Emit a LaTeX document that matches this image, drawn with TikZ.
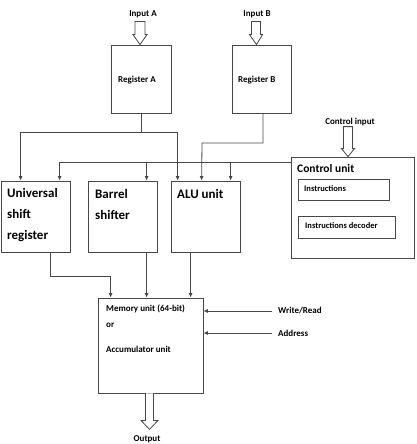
\documentclass[tikz,border=0pt]{standalone}
\usepackage{fontspec}
\setmainfont{Carlito}
\usetikzlibrary{arrows.meta,calc}
\begin{document}
\begin{tikzpicture}[x=1pt,y=-1pt,
  ln/.style={draw=black!72,line width=0.8pt},
  arr/.style={ln,-{Latex[length=4.5pt,width=4pt]}},
  box/.style={ln,rectangle,inner sep=0pt},
  hol/.style={draw=black!72,line width=0.8pt,fill=white,line join=miter},
  sm/.style={font=\bfseries\fontsize{9}{11}\selectfont,inner sep=0pt},
  xs/.style={font=\bfseries\fontsize{8.5}{10}\selectfont,inner sep=0pt},
  big/.style={font=\bfseries\fontsize{13}{21}\selectfont,inner sep=0pt,align=left},
  mid/.style={font=\bfseries\fontsize{11.5}{14}\selectfont,inner sep=0pt}]
\useasboundingbox (0,0) rectangle (416,444);
% boxes
\node[box,minimum width=60,minimum height=68] (regA) at (141,79) {};
\node[box,minimum width=59,minimum height=68] (regB) at (262,79) {};
\node[box,minimum width=69,minimum height=71] (usr) at (35.5,216.5) {};
\node[box,minimum width=69,minimum height=71] (bar) at (122.5,216.5) {};
\node[box,minimum width=69,minimum height=71] (alu) at (205.5,216.5) {};
\node[box,minimum width=123,minimum height=101] (cu) at (352.5,207.5) {};
\node[box,minimum width=91,minimum height=21] (ins) at (343.5,189.5) {};
\node[box,minimum width=97,minimum height=22] (dec) at (346.5,227) {};
\node[box,minimum width=105,minimum height=95] (mem) at (150.5,345.5) {};
% labels
\node[sm,anchor=west] (lA) at (118,80) {Register A};
\node[sm,anchor=west] (lB) at (238,80) {Register B};
\node[big,anchor=west] (lusr) at (7,215) {Universal\\shift\\register};
\node[big,anchor=west] (lbar) at (95,204.5) {Barrel\\shifter};
\node[big,anchor=west] (lalu) at (177,194) {ALU unit};
\node[mid,anchor=west] (lcu) at (297,169) {Control unit};
\node[xs,anchor=west] (lins) at (304,188.5) {Instructions};
\node[xs,anchor=west] (ldec) at (305,226) {Instructions decoder};
\node[sm,anchor=west] (lm1) at (106,309) {Memory unit (64-bit)};
\node[sm,anchor=west] (lm2) at (106,325) {or};
\node[sm,anchor=west] (lm3) at (106,349) {Accumulator unit};
\node[sm] (inA) at (143,14) {Input A};
\node[sm] (inB) at (257,14) {Input B};
\node[sm] (cin) at (350,122) {Control input};
\node[sm] (out) at (147,439) {Output};
\node[sm,anchor=west,inner xsep=6pt] (wr) at (272,311) {Write/Read};
\node[sm,anchor=west,inner xsep=6pt] (ad) at (272,333) {Address};
% hollow arrows
\draw[hol] ([xshift=-1pt]regA.north) -- ++(-7,-10) -- ++(2,0) -- ++(0,-13) -- ++(10,0) -- ++(0,13) -- ++(2,0) -- cycle;
\draw[hol] ([xshift=-5.5pt]regB.north) -- ++(-7,-10) -- ++(2,0) -- ++(0,-13) -- ++(9,0) -- ++(0,13) -- ++(2,0) -- cycle;
\draw[hol] ([xshift=-4.5pt]cu.north) -- ++(-6.5,-8) -- ++(2,0) -- ++(0,-22) -- ++(9,0) -- ++(0,22) -- ++(2,0) -- cycle;
\draw[hol] ([xshift=-1pt]mem.south) ++(-4,0) -- ++(0,27) -- ++(-4.5,0) -- ++(8.5,9) -- ++(8.5,-9) -- ++(-4.5,0) -- ++(0,-27);
% register A bus
\coordinate (busA) at (141,132);
\draw[ln] (regA.south) -- (busA);
\draw[arr] (busA) -| ([xshift=20pt]usr.north west);
\draw[arr] (busA) -| ([xshift=7pt]alu.north west);
% register B
\coordinate (busB) at (202,143);
\draw[arr] ([xshift=1pt]regB.south) |- (busB) -- ([xshift=31pt]alu.north west);
% control bus
\coordinate (cb) at ([yshift=-6pt]cu.north west);
\draw[arr] (cb) -| ([xshift=59pt]usr.north west);
\draw[arr] (cb) -| ([xshift=59pt]bar.north west);
\draw[arr] (cb) -| ([xshift=60pt]alu.north west);
% outputs to memory
\coordinate (m1) at ([xshift=13pt]mem.north west);
\draw[arr] ([xshift=50pt]usr.south west) |- ([yshift=21pt]m1) -- (m1);
\coordinate (bo) at ([xshift=59pt]bar.south west);
\draw[arr] (bo) -- (bo |- mem.north);
\coordinate (ao) at ([xshift=20pt]alu.south west);
\draw[arr] (ao) -- (ao |- mem.north);
% write/read, address
\draw[arr] (wr.west) -- (wr.west -| mem.east);
\draw[arr] (ad.west) -- (ad.west -| mem.east);
\end{tikzpicture}
\end{document}
